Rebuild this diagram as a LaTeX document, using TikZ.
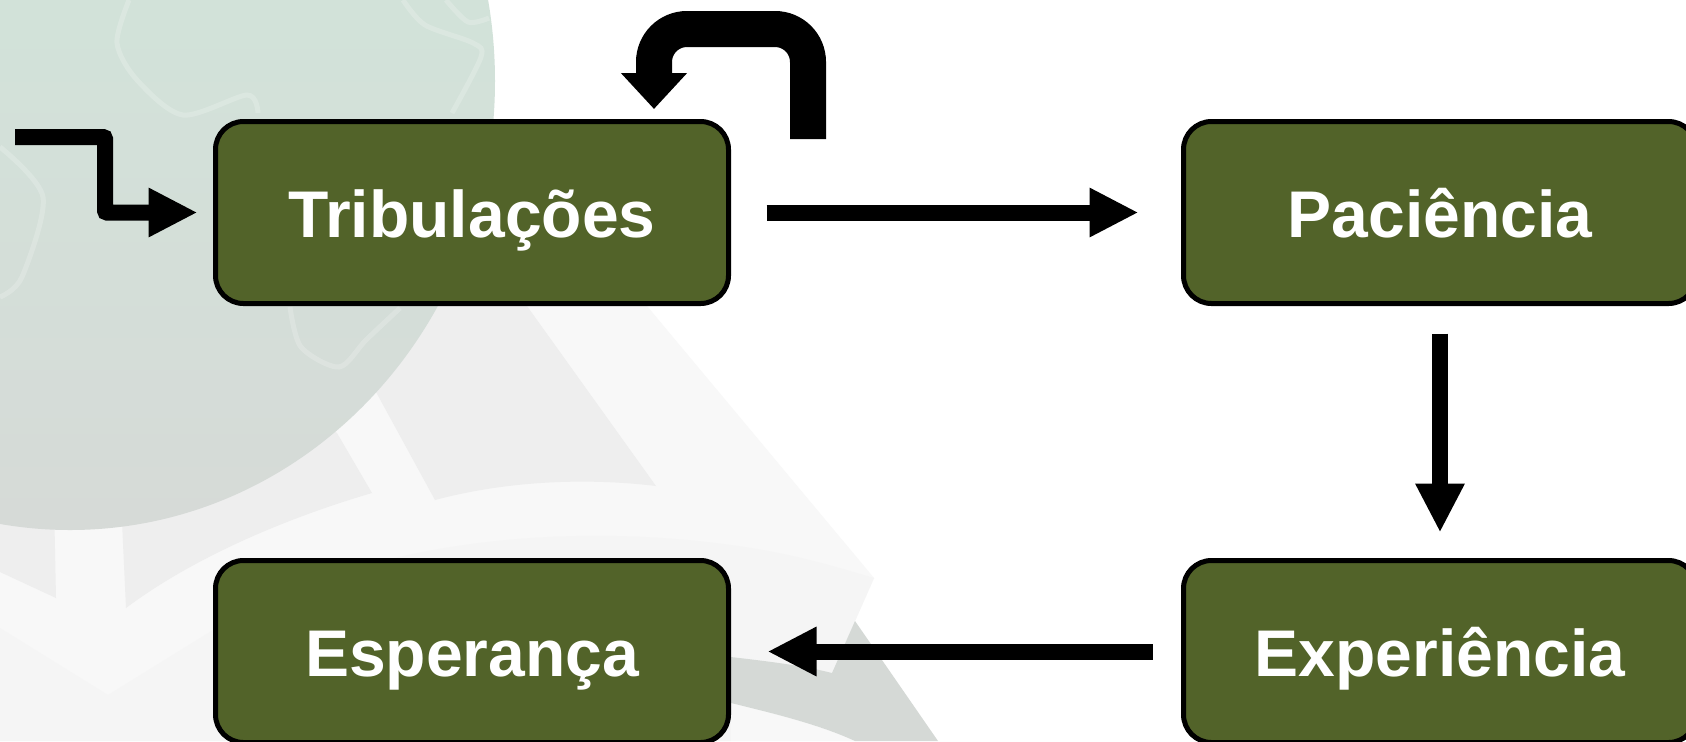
\documentclass[tikz,border=0pt]{standalone}
\usepackage{fontspec}
\setmainfont{Liberation Sans}
\usetikzlibrary{arrows.meta}

\definecolor{boxgreen}{HTML}{526329}
\definecolor{globetop}{HTML}{CFE8DB}
\definecolor{globebot}{HTML}{D6DAD7}
\definecolor{bglight}{HTML}{F8F8F8}
\definecolor{bgfaint}{HTML}{F5F5F5}
\definecolor{bgmid}{HTML}{EEEEEE}
\definecolor{bgdark}{HTML}{D5D9D6}

\tikzset{
    stagebox/.style={draw=black, fill=boxgreen, line width=2.5pt, rounded corners=14pt,
        minimum width=256.5pt, minimum height=91pt, outer sep=0pt, inner sep=0pt,
        text=white, font=\fontsize{33}{36}\selectfont\bfseries, text height=25pt, text depth=0pt},
    flowarrow/.style={line width=8pt, -{Triangle[length=24.5pt,width=23pt]}},
    looparrow/.style={line width=18pt, rounded corners=16.5pt, -{Triangle[length=18pt,width=32pt]}},
    coastline/.style={draw=white, opacity=0.2, line width=2.5pt, smooth}
}

\begin{document}
\begin{tikzpicture}[x=0.5pt,y=-0.5pt]
    \useasboundingbox (0,0) rectangle (1686,741);

    % background
    \fill[white] (0,0) rectangle (1686,741);
    \fill[bglight] (0,400) -- (491,119) -- (874,578) -- (832,673) -- (731,657) -- (731,741) -- (0,741) -- cycle;
    \fill[bgfaint] (0,628) -- (108,695) -- (213,630) .. controls (350,545) and (550,520) .. (731,545)
        .. controls (790,553) and (830,565) .. (874,578) -- (832,673) -- (731,657) -- (731,741) -- (0,741) -- cycle;
    \fill[bgmid] (379,300) -- (527,306) -- (656,486) .. controls (590,478) and (510,480) .. (435,500) -- (376,392) -- cycle;
    \fill[bgmid] (300,400) -- (337,433) -- (372,493) .. controls (280,520) and (190,560) .. (126,608) -- (121,500) -- cycle;
    \fill[bgmid] (0,500) -- (54,500) -- (56,598) -- (0,572) -- cycle;
    \fill[bglight] (731,703) .. controls (780,715) and (820,725) .. (855,741) -- (731,741) -- cycle;
    \fill[bgdark] (731,657) .. controls (765,661) and (800,665) .. (832,673) -- (855,621) -- (938,741) -- (855,741)
        .. controls (820,725) and (780,715) .. (731,703) -- cycle;

    % globe
    \shade[top color=globetop, bottom color=globebot] (70,81) ellipse [x radius=425, y radius=449];
    \draw[coastline] plot coordinates {(129,0) (117,43) (137,80) (183,115) (247,95) (258,113)};
    \draw[coastline] plot coordinates {(403,0) (425,25) (473,43) (481,57) (452,113)};
    \draw[coastline] plot coordinates {(446,0) (468,22) (489,18)};
    \draw[coastline] plot coordinates {(0,147) (43,197) (22,277) (0,297)};
    \draw[coastline] plot coordinates {(290,307) (301,347) (339,367) (366,340) (400,308)};

    % stages
    \node[stagebox] (tribulacoes) at (472,212.5) {Tribulações};
    \node[stagebox] (paciencia) at (1440,212.5) {Paciência};
    \node[stagebox] (experiencia) at (1440,651.5) {Experiência};
    \node[stagebox] (esperanca) at (472,651.5) {Esperança};

    % arrows
    \coordinate (entry) at (15,137);
    \draw[flowarrow, rounded corners=1pt] (entry) -- (105,137) -- (105,212.5) -- ([xshift=-9pt]tribulacoes.west);
    \draw[flowarrow] ([xshift=19pt]tribulacoes.east) -- ([xshift=-22.5pt]paciencia.west);
    \draw[flowarrow] ([yshift=-15pt]paciencia.south) -- ([yshift=14pt]experiencia.north);
    \draw[flowarrow] ([xshift=-15.5pt]experiencia.west) -- ([xshift=19.5pt]esperanca.east);

    \coordinate (looptail) at (808,139);
    \draw[looparrow] (looptail) -- (808,29) -- (654,29) -- (654,109);
\end{tikzpicture}
\end{document}
